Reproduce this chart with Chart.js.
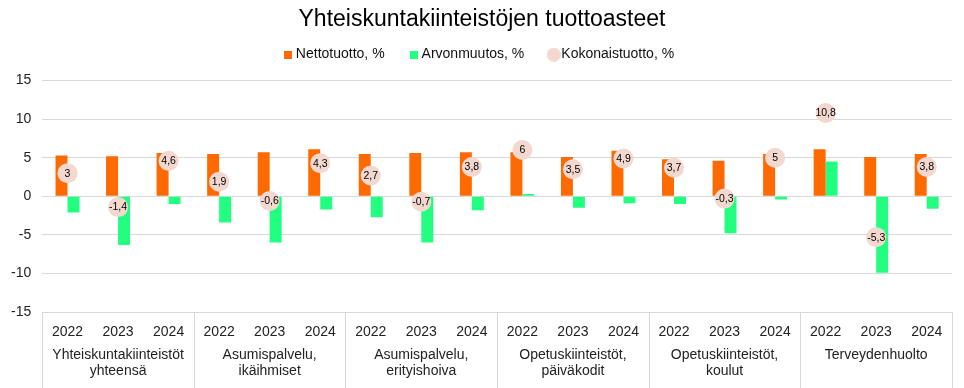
<!DOCTYPE html>
<html>
<head>
<meta charset="utf-8">
<script src="https://cdn.jsdelivr.net/npm/chart.js@4"></script>
<style>
  body { margin: 0; background: #fff; }
  #c { display: block; }
</style>
</head>
<body>
<canvas id="c" width="964" height="388"></canvas>
<script>
// Ryhmät ja vuodet
const groups = [
  ['Yhteiskuntakiinteistöt', 'yhteensä'],
  ['Asumispalvelu,', 'ikäihmiset'],
  ['Asumispalvelu,', 'erityishoiva'],
  ['Opetuskiinteistöt,', 'päiväkodit'],
  ['Opetuskiinteistöt,', 'koulut'],
  ['Terveydenhuolto']
];
const years = ['2022', '2023', '2024'];

// Arvot luettu kuvasta
const netto = [5.3, 5.2, 5.6, 5.5, 5.7, 6.1, 5.5, 5.6, 5.7, 5.7, 5.1, 5.9, 4.8, 4.6, 5.5, 6.1, 5.1, 5.5];
const arvo = [-2.1, -6.3, -1.0, -3.4, -6.0, -1.7, -2.7, -6.0, -1.8, 0.3, -1.5, -0.9, -1.0, -4.8, -0.4, 4.5, -9.9, -1.6];
const kokonais = [3, -1.4, 4.6, 1.9, -0.6, 4.3, 2.7, -0.7, 3.8, 6, 3.5, 4.9, 3.7, -0.3, 5, 10.8, -5.3, 3.8];

const labels = groups.flatMap(() => years);
const font = "'Liberation Sans', Arial, sans-serif";
const orange = '#ff6a00';
const green = '#22ff80';
const pink = '#f2d8cf';
const gridColor = '#d9d9d9';

// legendin merkit omina pikku canvaksina
const marker = (type, color, size) => {
  const c = document.createElement('canvas');
  c.width = size; c.height = size;
  const g = c.getContext('2d');
  g.fillStyle = color;
  if (type === 'rect') {
    g.fillRect(0, 0, size, size);
  } else {
    g.beginPath();
    g.arc(size / 2, size / 2, size / 2, 0, Math.PI * 2);
    g.fill();
  }
  return c;
};

const fmt = v => String(v).replace('.', ',');

// lisätilaa legendin alle + pieni siirto oikealle
const legendSpace = {
  id: 'legendSpace',
  beforeInit(chart) {
    const fit = chart.legend.fit;
    chart.legend.fit = function () {
      fit.call(this);
      this.height += 9;
    };
    const draw = chart.legend.draw;
    chart.legend.draw = function () {
      this.ctx.save();
      this.ctx.translate(5, 0);
      draw.call(this);
      this.ctx.restore();
    };
    const tdraw = chart.titleBlock.draw;
    chart.titleBlock.draw = function () {
      this.ctx.save();
      this.ctx.translate(6, 0);
      tdraw.call(this);
      this.ctx.restore();
    };
  }
};

// pisteiden arvot ympyröiden sisään
const pointLabels = {
  id: 'pointLabels',
  afterDatasetsDraw(chart) {
    const ctx = chart.ctx;
    const meta = chart.getDatasetMeta(2);
    ctx.save();
    ctx.font = '10.5px ' + font;
    ctx.fillStyle = '#000';
    ctx.textAlign = 'center';
    ctx.textBaseline = 'middle';
    meta.data.forEach((pt, i) => {
      ctx.fillText(fmt(kokonais[i]), pt.x, pt.y + 0.5);
    });
    ctx.restore();
  }
};

// ryhmien väliviivat x-akselin alle
const groupLines = {
  id: 'groupLines',
  afterDraw(chart) {
    const ctx = chart.ctx;
    const x = chart.scales.x;
    const area = chart.chartArea;
    const step = (x.getPixelForValue(1) - x.getPixelForValue(0));
    ctx.save();
    ctx.strokeStyle = gridColor;
    ctx.lineWidth = 1;
    for (let g = 0; g <= groups.length; g++) {
      const px = Math.round(x.getPixelForValue(g * years.length) - step / 2) + 0.5;
      ctx.beginPath();
      ctx.moveTo(px, area.bottom);
      ctx.lineTo(px, chart.height);
      ctx.stroke();
    }
    ctx.restore();
  }
};

new Chart(document.getElementById('c'), {
  type: 'bar',
  data: {
    labels: labels,
    datasets: [
      {
        label: 'Nettotuotto, %',
        data: netto,
        backgroundColor: orange,
        categoryPercentage: 0.474,
        barPercentage: 1,
        order: 2
      },
      {
        label: 'Arvonmuutos, %',
        data: arvo,
        backgroundColor: green,
        categoryPercentage: 0.474,
        barPercentage: 1,
        order: 2
      },
      {
        type: 'line',
        label: 'Kokonaistuotto, %',
        data: kokonais,
        showLine: false,
        pointRadius: 10,
        pointHoverRadius: 10,
        pointBackgroundColor: pink,
        pointBorderWidth: 0,
        borderColor: pink,
        order: 1
      }
    ]
  },
  options: {
    responsive: false,
    animation: false,
    layout: { padding: { left: 0, right: 12, top: 0, bottom: 0 } },
    plugins: {
      title: {
        display: true,
        text: 'Yhteiskuntakiinteistöjen tuottoasteet',
        color: '#000',
        font: { family: font, size: 23, weight: 'normal' },
        padding: { top: 6, bottom: -15 }
      },
      legend: {
        labels: {
          color: '#111',
          font: { family: font, size: 14 },
          usePointStyle: true,
          boxWidth: 1,
          padding: 29,
          generateLabels(chart) {
            const styles = [marker('rect', orange, 8), marker('rect', green, 8), marker('circle', pink, 14)];
            return chart.data.datasets.map((ds, i) => ({
              text: ds.label,
              pointStyle: styles[i],
              fillStyle: ds.backgroundColor,
              strokeStyle: 'transparent',
              lineWidth: 0,
              hidden: false,
              datasetIndex: i,
              fontColor: '#111'
            }));
          }
        }
      },
      tooltip: { enabled: false }
    },
    scales: {
      y: {
        min: -15,
        max: 15,
        ticks: {
          stepSize: 5,
          color: '#222',
          font: { family: font, size: 14 },
          padding: 11
        },
        grid: { color: gridColor, drawTicks: false },
        border: { display: false }
      },
      x: {
        grid: { display: false, drawTicks: false },
        border: { display: false },
        ticks: {
          color: '#222',
          font: { family: font, size: 14 },
          autoSkip: false,
          maxRotation: 0,
          padding: 11.6
        },
        afterFit(scale) { scale.height = 30; }
      },
      x2: {
        type: 'category',
        position: 'bottom',
        labels: groups,
        offset: true,
        grid: { display: false, drawTicks: false },
        border: { display: false },
        ticks: {
          color: '#222',
          font: { family: font, size: 14, lineHeight: 1.15 },
          autoSkip: false,
          maxRotation: 0,
          padding: 5
        },
        afterFit(scale) { scale.height = 46; }
      }
    }
  },
  plugins: [legendSpace, pointLabels, groupLines]
});
</script>
</body>
</html>
